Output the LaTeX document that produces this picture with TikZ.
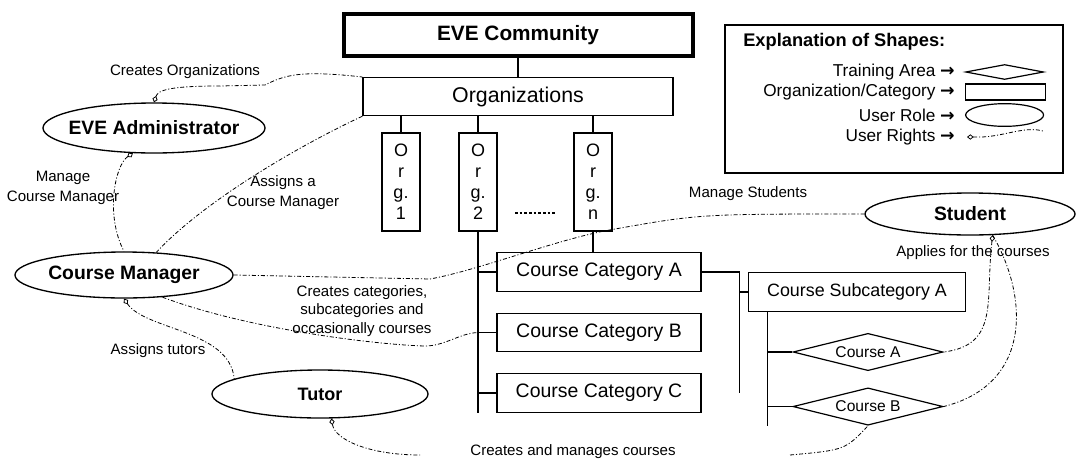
\documentclass[tikz,border=0pt]{standalone}
\usepackage{fontspec}
\setmainfont{Liberation Sans}
\newfontfamily\symfont{DejaVu Sans}
\usetikzlibrary{positioning, arrows.meta, shapes.geometric, calc}
\newcommand{\fs}[2]{\fontsize{#1}{#2}\selectfont}
\newcommand{\legarrow}{{\symfont\bfseries\fs{13}{15}→}}
\tikzset{
  box/.style    ={draw, line width=0.9pt, inner sep=2pt, minimum width=153pt,
                  minimum height=29pt, font=\fs{14.6}{17}},
  orgbox/.style ={draw, line width=0.9pt, inner sep=0pt, minimum width=28.5pt,
                  minimum height=73.5pt, align=center, font=\fs{13.5}{15.75}},
  role/.style   ={draw, ellipse, line width=1pt, inner xsep=-20pt, inner ysep=0pt,
                  font=\bfseries\fs{14.5}{17}},
  area/.style   ={draw, diamond, aspect=4, line width=0.9pt, inner sep=0pt, minimum width=112.5pt,
                  minimum height=28pt, font=\fs{11.7}{14}},
  tree/.style   ={line width=0.9pt},
  rights/.style ={line width=0.6pt, dash pattern=on 3pt off 1.5pt on 0.8pt off 1.5pt},
  rtip/.style   ={{Diamond[open, length=5pt, width=4pt]}-},
  lbl/.style    ={font=\fs{11.3}{15}, align=center, inner sep=1pt},
  legtxt/.style ={font=\fs{12.9}{15}, anchor=east, inner sep=0pt},
}
\begin{document}
\begin{tikzpicture}[x=0.75pt, y=-0.75pt]
  \useasboundingbox (0,0) rectangle (1078,461);
  % hierarchy
  \node[draw, line width=3pt, minimum width=261.75pt, minimum height=31.5pt,
        font=\bfseries\fs{15.6}{18}] (eve) at (518,35) {EVE Community};
  \node[box, minimum width=232.5pt, minimum height=28.5pt, font=\fs{16}{18},
        below=14.25pt of eve] (orgs) {Organizations};
  \node[orgbox] (org1) at (401,182) {O\\r\\g.\\1};
  \node[orgbox] (org2) at (478,182) {O\\r\\g.\\2};
  \node[orgbox] (orgn) at (593,182) {O\\r\\g.\\n};
  \coordinate (dl) at (515,213);
  \coordinate (dr) at (555,213);
  \node[box] (cca) at (599,272) {Course Category A};
  \node[box, below=15.5pt of cca] (ccb) {Course Category B};
  \node[box, below=15.5pt of ccb] (ccc) {Course Category C};
  \node[box, minimum width=163pt, font=\fs{13.4}{16}] (csa) at (857,292) {Course Subcategory A};
  \node[area] (ca) at (868,352) {Course A};
  \node[area, below=12pt of ca] (cb) {Course B};

  \draw[tree] (eve.south) -- (orgs.north);
  \foreach \o in {org1,org2,orgn}
    \draw[tree] (orgs.south -| \o.north) -- (\o.north);
  \draw[line width=0.8pt, dash pattern=on 2pt off 1.5pt] (dl) -- (dr);
  \draw[tree] (org2.south) -- (org2.south |- ccc.south);
  \foreach \c in {cca,ccb,ccc}
    \draw[tree] (org2.south |- \c.west) -- (\c.west);
  \draw[tree] (orgn.south) -- (orgn.south |- cca.north);
  \coordinate (t2) at ($(cca.east)+(38,0)$);
  \draw[tree] (cca.east) -- (t2) -- (t2 |- ccc.east);
  \draw[tree] (t2 |- csa.west) -- (csa.west);
  \coordinate (t3) at ($(csa.south west)+(20,0)$);
  \draw[tree] (t3) -- (t3 |- cb.south);
  \foreach \c in {ca,cb}
    \draw[tree] (t3 |- \c.west) -- (\c.west);
  \coordinate (jb) at (org2.south |- ccb.west);

  % user roles
  \node[role, minimum width=166.5pt, minimum height=37.5pt] (admin) at (154,128) {EVE Administrator};
  \node[role, minimum width=163.5pt, minimum height=34.5pt] (cm) at (124,275) {Course Manager};
  \node[role, minimum width=157.5pt, minimum height=31.5pt] (student) at (970,214) {Student};
  \node[role, minimum width=162pt, minimum height=36pt, font=\bfseries\fs{13.5}{16}] (tutor) at (320,394) {Tutor};

  % user rights
  \node[lbl] (lcreorg) at (185,72) {Creates Organizations};
  \node[lbl] (lmancm) at (63,188) {Manage\\Course Manager};
  \node[lbl] (lasscm) at (283,193) {Assigns a\\Course Manager};
  \node[lbl] (lasst) at (158,351) {Assigns tutors};
  \node[lbl, font=\fs{11.3}{14}] (lcrecat) at (362,311) {Creates categories,\\subcategories and\\occasionally courses};
  \node[lbl] (lmanst) at (748,194) {Manage Students};
  \node[lbl] (lapply) at (973,253) {Applies for the courses};
  \node[lbl] (lcrecou) at (573,452) {Creates and manages courses};
  \coordinate (cl) at (420,455);
  \coordinate (cr) at (790,455);

  \draw[rights, rtip] (admin.north) .. controls (158,90) and (170,86) .. (220,86)
        -- (265,85) .. controls (285,75) and (300,70) .. (orgs.north west);
  \draw[rights] (orgs.south west) .. controls (290,150) and (200,205) .. (cm.35);
  \draw[rights, rtip] (admin.230) .. controls (115,165) and (105,215) .. (cm.north);
  \draw[rights, rtip] (cm.south) .. controls (145,330) and (230,330) .. (tutor.170);
  \draw[rights] (cm.-30) .. controls (250,330) and (380,345) .. (425,346)
        .. controls (445,346) and (460,333) .. (jb);
  \draw[rights] (cm.east) -- (430,279) .. controls (480,270) and (560,238) .. (615,229)
        .. controls (700,214) .. (student.west);
  \draw[rights, rtip] (student.-43) .. controls (985,300) and (1000,345) .. (ca.east);
  \draw[rights] (student.-43) .. controls (1030,300) and (1030,385) .. (cb.east);
  \draw[rights, rtip] (tutor.-65) .. controls (335,440) and (370,455) .. (cl);
  \draw[rights] (cr) .. controls (845,450) .. (cb.south);

  % legend
  \node[draw, line width=0.9pt, minimum width=253.5pt, minimum height=111pt] (legend) at (894,99) {};
  \node[font=\bfseries\fs{13.7}{16}, anchor=west, inner sep=0pt] (legtitle) at (743,42) {Explanation of Shapes:};
  \node[legtxt] (lgarea) at (955,72) {Training Area \legarrow};
  \node[legtxt] (lgorg) at (955,92) {Organization/Category \legarrow};
  \node[legtxt] (lgrole) at (955,115) {User Role \legarrow};
  \node[legtxt] (lgright) at (955,137) {User Rights \legarrow};
  \node[draw, diamond, aspect=5.2, line width=0.9pt, inner sep=0pt, minimum width=58.5pt,
        minimum height=11.25pt, right=7.5pt of lgarea] (sarea) {};
  \node[draw, line width=0.9pt, inner sep=0pt, minimum width=60pt,
        minimum height=12pt, right=7.5pt of lgorg] (sorg) {};
  \node[draw, ellipse, line width=0.9pt, inner sep=0pt, minimum width=58.5pt,
        minimum height=17pt, right=7.5pt of lgrole] (srole) {};
  \coordinate (ra) at (967,137);
  \coordinate (rb) at (1043,131);
  \draw[rights, rtip] (ra) -- (982,137) .. controls (1005,136) and (1025,126) .. (rb);
\end{tikzpicture}
\end{document}
